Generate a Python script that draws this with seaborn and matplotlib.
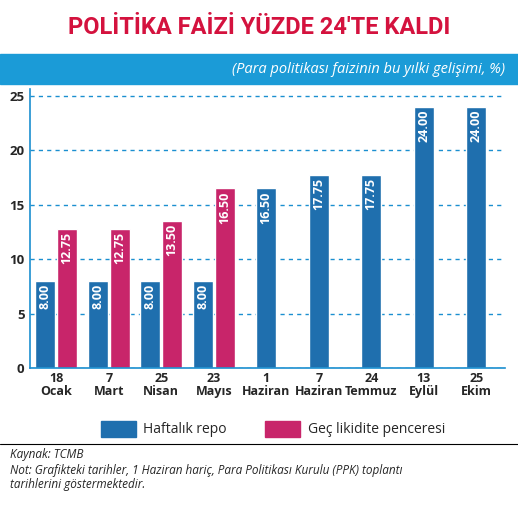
import numpy as np
import pandas as pd
import matplotlib
matplotlib.use("Agg")
import matplotlib.pyplot as plt
import seaborn as sns

# data
dates = ["18\nOcak", "7\nMart", "25\nNisan", "23\nMayıs", "1\nHaziran",
         "7\nHaziran", "24\nTemmuz", "13\nEylül", "25\nEkim"]
repo = [8.00, 8.00, 8.00, 8.00, 16.50, 17.75, 17.75, 24.00, 24.00]
gec_likidite = [12.75, 12.75, 13.50, 16.50]

blue = "#1f6fae"
pink = "#c8256a"
band = "#1b9bd7"
grid_c = "#1b8fd0"

sns.set_style("white")
plt.rcParams['font.family'] = ['Open Sans', 'DejaVu Sans']

fig = plt.figure(figsize=(5.18, 5.09), dpi=100)
ax = fig.add_axes([0.058, 0.277, 0.917, 0.548])

# paired groups are shifted, single bars stay centred
off = 0.21
n_pair = len(gec_likidite)
blue_x = [i - off if i < n_pair else i for i in range(len(repo))]
pink_x = [i + off for i in range(n_pair)]

sns.barplot(x=blue_x, y=repo, native_scale=True, width=0.38, color=blue,
            saturation=1, ax=ax)
sns.barplot(x=pink_x, y=gec_likidite, native_scale=True, width=0.38, color=pink,
            saturation=1, ax=ax)

for xs, vals in [(blue_x, repo), (pink_x, gec_likidite)]:
    for x, v in zip(xs, vals):
        ax.text(x, v - 0.3, f"{v:.2f}", rotation=90, ha="center", va="top",
                color="white", fontsize=9, fontweight="bold")

ax.set_xlim(-0.5, 8.55)
ax.set_ylim(0, 25.6)
ax.set_yticks([0, 5, 10, 15, 20, 25])
ax.set_xticks(range(len(dates)))
ax.set_xticklabels(dates, fontsize=9, fontweight="bold", linespacing=1.0)
ax.tick_params(axis="y", labelsize=9.5, length=0, pad=4)
ax.tick_params(axis="x", length=0, pad=3)
for t in ax.get_yticklabels():
    t.set_fontweight("bold")
ax.yaxis.grid(True, linestyle=(0, (3, 3)), color=grid_c, linewidth=1)
ax.set_axisbelow(True)
for s in ["top", "right"]:
    ax.spines[s].set_visible(False)
ax.spines["left"].set_color(grid_c)
ax.spines["bottom"].set_color(grid_c)
ax.spines["left"].set_linewidth(1.2)
ax.spines["bottom"].set_linewidth(1.2)
ax.set_xlabel("")
ax.set_ylabel("")

# title and header band
fig.text(0.5, 0.945, "POLİTİKA FAİZİ YÜZDE 24'TE KALDI", ha="center", va="center",
         color="#d4123e", fontsize=17, fontweight="bold", family=["Roboto", "DejaVu Sans"],
         fontstretch="condensed")
fig.patches.append(plt.Rectangle((0.0, 0.835), 1.0, 0.058, transform=fig.transFigure,
                                 color=band, zorder=0))
fig.text(0.975, 0.864, "(Para politikası faizinin bu yılki gelişimi, %)", ha="right",
         va="center", color="white", fontsize=10.5, style="italic")

# legend
fig.patches.append(plt.Rectangle((0.195, 0.142), 0.068, 0.03, transform=fig.transFigure, color=blue))
fig.text(0.277, 0.157, "Haftalık repo", va="center", fontsize=10)
fig.patches.append(plt.Rectangle((0.512, 0.142), 0.068, 0.03, transform=fig.transFigure, color=pink))
fig.text(0.594, 0.157, "Geç likidite penceresi", va="center", fontsize=10)

fig.lines.append(plt.Line2D([0.0, 1.0], [0.127, 0.127], transform=fig.transFigure,
                            color="black", linewidth=0.8))
fig.text(0.02, 0.108, "Kaynak: TCMB", fontsize=8.5, style="italic", va="center")
fig.text(0.02, 0.062, "Not: Grafikteki tarihler, 1 Haziran hariç, Para Politikası Kurulu (PPK) toplantı\n"
         "tarihlerini göstermektedir.", fontsize=8.5, style="italic", va="center",
         linespacing=1.1)

fig.savefig("out.png", dpi=100, facecolor="white")
